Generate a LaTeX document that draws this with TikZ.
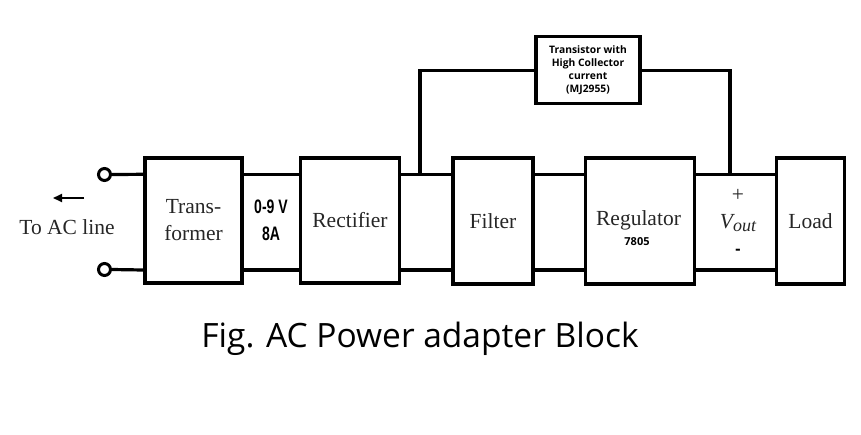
\documentclass[tikz,border=0pt]{standalone}
\usepackage{fontspec}
\setmainfont{Liberation Serif}
\newfontfamily\capfont{Open Sans}
\newfontfamily\narrowfont[FakeStretch=0.72]{Liberation Sans}
\usetikzlibrary{arrows.meta}

\begin{document}
\begin{tikzpicture}[x=1pt, y=-1pt,
    block/.style={draw, line width=3.2pt, inner sep=0pt, align=center,
        font=\fontsize{21.5}{27}\selectfont, text=black!85},
    wire/.style={line width=3.2pt},
    term/.style={circle, draw, line width=3pt, minimum size=12pt, inner sep=0pt},
    lbl/.style={inner sep=0pt, font=\fontsize{21.5}{27}\selectfont, text=black!85}]

    \useasboundingbox (0,0) rectangle (861,434);

    % Blocks
    \node[block, minimum width=97pt, minimum height=125pt] (trans) at (193.5,220.5) {Trans-\\former};
    \node[block, minimum width=99pt, minimum height=125pt] (rect) at (350,220.5) {Rectifier};
    \node[block, minimum width=80pt, minimum height=126pt] (filt) at (493,221) {Filter};
    \node[block, minimum width=109pt, minimum height=126pt] (reg) at (640.3,221) {};
    \node[block, minimum width=67.5pt, minimum height=126pt] (load) at (810.5,221) {Load};
    \node[block, minimum width=104pt, minimum height=67pt, text=black,
        font=\capfont\bfseries\fontsize{10.3}{13}\selectfont] (trx) at (588,70.3)
        {Transistor with\\High Collector\\current\\(MJ2955)\vphantom{g}};

    % Terminals
    \node[term] (inA) at (104.5,174.5) {};
    \node[term] (inB) at (104.5,269.5) {};

    % Wires
    \coordinate (top) at (0,174.3);
    \coordinate (bot) at (0,270);
    \draw[wire] (inA.east) -- (trans.west |- top);
    \draw[wire] (inB.east) -- (trans.west |- bot);
    \foreach \a/\b in {trans/rect, rect/filt, filt/reg, reg/load}{
        \draw[wire] (\a.east |- top) -- (\b.west |- top);
        \draw[wire] (\a.east |- bot) -- (\b.west |- bot);
    }

    % Bypass through the transistor
    \coordinate (jl) at (420,174.3);
    \coordinate (jr) at (730,174.3);
    \draw[wire] (jl) |- (trx.west);
    \draw[wire] (trx.east) -| (jr);

    % Labels
    \coordinate (arrS) at (84,198);
    \coordinate (arrE) at (53,198);
    \draw[line width=1.8pt, -{Triangle[length=9pt, width=8pt]}] (arrS) -- (arrE);
    \node[lbl] (acl) at (67,227) {To AC line};
    \node[inner sep=0pt, align=center, font=\narrowfont\bfseries\fontsize{19.5}{27}\selectfont]
        (spec) at (271,220.5) {0-9 V\\8A};
    \node[lbl] (regtxt) at (638.5,220) {Regulator};
    \node[inner sep=0pt, font=\capfont\bfseries\fontsize{11}{13}\selectfont] (regno) at (637,242) {7805};
    \node[lbl] (plus) at (738,195) {+};
    \node[lbl] (vout) at (738,223) {\itshape V\raisebox{-3pt}{\fontsize{18}{20}\selectfont out}};
    \node[inner sep=0pt, font=\capfont\bfseries\fontsize{16}{20}\selectfont] (minus) at (738,252) {-};

    % Caption
    \node[inner sep=0pt, font=\capfont\fontsize{33.5}{38}\selectfont] (cap) at (420,339)
        {Fig. AC Power adapter Block};

\end{tikzpicture}
\end{document}
